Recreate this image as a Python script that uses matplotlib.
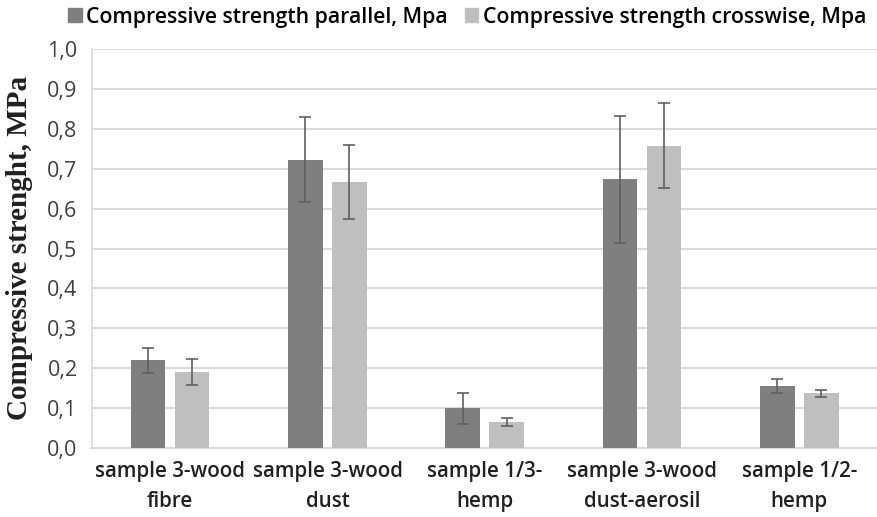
import matplotlib
matplotlib.use("Agg")
import matplotlib.pyplot as plt
import numpy as np
from matplotlib.patches import Patch

categories = ["sample 3-wood\nfibre", "sample 3-wood\ndust", "sample 1/3-\nhemp",
              "sample 3-wood\ndust-aerosil", "sample 1/2-\nhemp"]
parallel = [0.22, 0.723, 0.099, 0.673, 0.156]
parallel_err = [0.031, 0.107, 0.040, 0.158, 0.018]
crosswise = [0.19, 0.666, 0.065, 0.758, 0.137]
crosswise_err = [0.033, 0.093, 0.011, 0.107, 0.009]
series_names = ["Compressive strength parallel, Mpa", "Compressive strength crosswise, Mpa"]
yticks = [0.0, 0.1, 0.2, 0.3, 0.4, 0.5, 0.6, 0.7, 0.8, 0.9, 1.0]

dark = "#7f7f7f"
light = "#bfbfbf"
errc = "#606060"

fig = plt.figure(figsize=(8.78, 5.17), dpi=100)
ax = fig.add_axes([91.5 / 878, 69 / 517, (878 - 91.5) / 878, 399 / 517])

x = np.arange(len(categories))
w = 0.22
off = 0.14
ekw = dict(ecolor=errc, elinewidth=1.2, capsize=4.5, capthick=1.2)
ax.bar(x - off, parallel, w, color=dark, yerr=parallel_err, zorder=3, error_kw=ekw)
ax.bar(x + off, crosswise, w, color=light, yerr=crosswise_err, zorder=3, error_kw=ekw)

ax.set_xlim(-0.5, len(categories) - 0.5)
ax.set_ylim(0, 1.0)
ax.set_yticks(yticks)
ax.set_yticklabels([f"{v:.1f}".replace(".", ",") for v in yticks],
                   fontsize=15.5, color="#404040", family="Open Sans")
ax.set_xticks(x)
ax.set_xticklabels(categories, fontsize=14.8, fontweight="semibold",
                   family="Open Sans", color="#202020", linespacing=1.6)
ax.tick_params(axis="both", length=0)
ax.tick_params(axis="y", pad=10)
ax.tick_params(axis="x", pad=9)
ax.grid(axis="y", color="#d9d9d9", linewidth=1.5, zorder=0)
for s in ["top", "right"]:
    ax.spines[s].set_visible(False)
ax.spines["left"].set_color("#d9d9d9")
ax.spines["bottom"].set_color("#d9d9d9")
ax.spines["left"].set_linewidth(1.2)
ax.spines["bottom"].set_linewidth(1.5)

fig.text(20 / 878, (517 - 248) / 517, "Compressive strenght, MPa", rotation=90,
         ha="center", va="center", fontsize=21, fontweight="bold",
         family="Liberation Serif", color="#202020")

handles = [Patch(color=dark), Patch(color=light)]
fig.legend(handles, series_names, loc="center", bbox_to_anchor=(467 / 878, (517 - 17) / 517),
           ncol=2, frameon=False, handlelength=0.65, handleheight=0.65, handletextpad=0.2,
           columnspacing=0.8, prop=dict(family="Open Sans", weight="semibold", size=15.3))

fig.savefig("out.png", dpi=100)
